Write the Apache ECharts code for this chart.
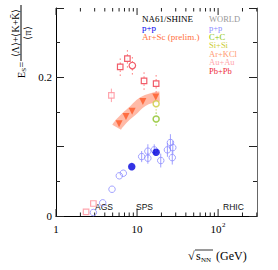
<!DOCTYPE html>
<html><head><meta charset="utf-8">
<script src="https://cdn.jsdelivr.net/npm/echarts@6/dist/echarts.min.js"></script>
<style>html,body{margin:0;padding:0;background:#fff}#c{width:278px;height:270px}</style>
</head><body><div id="c"></div>
<script>
// ---- data ----
const xMajorTicks = [1, 10, 100];
const xMajorLabels = ['1', '10', '10'];
const xMajorSup = ['', '', '2'];
const xMinorTicks = [2,3,4,5,6,7,8,9,20,30,40,50,60,70,80,90,200,300];

const ppWorldX   = [2.89, 3.77, 4.91, 6.04, 6.77, 11.4, 13.6, 13.6, 16.3, 19.6, 23.7, 25.8, 27.6, 27.2];
const ppWorldY   = [0.005, 0.019, 0.0386, 0.058, 0.0617, 0.0857, 0.0935, 0.0834, 0.0954, 0.080, 0.0954, 0.106, 0.0987, 0.0842];
const ppWorldErr = [0, 0, 0, 0, 0, 0.008, 0.010, 0.008, 0.008, 0.010, 0.010, 0.012, 0.010, 0.010];

const ppNA61X = [8.6, 17.2];
const ppNA61Y = [0.0712, 0.092];

const arScX = [6.0, 7.3, 8.7, 11.8, 17.0];
const arScY = [0.133, 0.1435, 0.151, 0.165, 0.1715];
const arScBandX = [5.6, 6.0, 7.3, 8.7, 11.8, 17.0, 19.0];
const arScBandY = [0.128, 0.133, 0.1435, 0.151, 0.165, 0.1715, 0.1725];

const pbPbSqX = [6.2, 7.6, 12.2, 17.2];
const pbPbSqY = [0.215, 0.227, 0.195, 0.191];
const pbPbCircX = [8.75];
const pbPbCircY = [0.217];
const pbPbErr = 0.013;

const auAuX = [2.35, 2.89, 4.82];
const auAuY = [0.006, 0.018, 0.174];
const auAuErr = [0, 0, 0.0097];

const ccX = [17.2];  const ccY = [0.140];
const siSiX = [17.2]; const siSiY = [0.162];
const heavyErr = 0.010;

const yLabels = {0: '0', 0.2: '0.2'};

// ---- helpers ----
const zip = (xs, ys) => xs.map((x, i) => [x, ys[i]]);
const errData = (xs, ys, e) => xs.map((x, i) => {
  const d = Array.isArray(e) ? e[i] : e;
  return [x, ys[i] - d, ys[i] + d];
}).filter(d => d[2] - d[1] > 0);
function errSeries(data, color, dash, z) {
  return {
    type: 'custom', data: data, z: z || 2, silent: true,
    renderItem: (p, api) => {
      const a = api.coord([api.value(0), api.value(1)]);
      const b = api.coord([api.value(0), api.value(2)]);
      return {type: 'line', shape: {x1: a[0], y1: a[1], x2: b[0], y2: b[1]},
        style: {stroke: color, lineWidth: 1, lineDash: dash || null}};
    }
  };
}
const serif = 'Liberation Serif';
const sans = 'Liberation Sans';

const chart = echarts.init(document.getElementById('c'), null, {renderer: 'svg'});

const commonX = {type: 'log', logBase: 10, min: 1, max: 302, splitLine: {show: false},
  axisTick: {show: false}, axisLabel: {show: false}};
const commonY = {type: 'value', min: 0, max: 0.3, interval: 0.1, splitLine: {show: false},
  minorTick: {show: true, splitNumber: 2, length: 4, lineStyle: {color: '#222'}}, minorSplitLine: {show: false}};

function tickSeries(values, len) {
  return {type: 'custom', data: values.map(v => [v, 0]), silent: true, z: 1, clip: false,
    renderItem: (p, api) => {
      const v = api.value(0);
      const b = api.coord([v, 0]), t = api.coord([v, 0.3]);
      return {type: 'group', children: [
        {type: 'line', shape: {x1: b[0], y1: b[1], x2: b[0], y2: b[1] - len}, style: {stroke: '#222', lineWidth: 1}},
        {type: 'line', shape: {x1: t[0], y1: t[1], x2: t[0], y2: t[1] + len}, style: {stroke: '#222', lineWidth: 1}}
      ]};
    }};
}

const option = {
  animation: false,
  backgroundColor: '#fff',
  grid: {left: 56, right: 21, top: 8, bottom: 54, containLabel: false},
  xAxis: [
    Object.assign({}, commonX, {position: 'bottom', axisLine: {lineStyle: {color: '#666', width: 1}}}),
    Object.assign({}, commonX, {position: 'top', axisLine: {lineStyle: {color: '#000', width: 1}}})
  ],
  yAxis: [
    Object.assign({}, commonY, {position: 'left',
      axisLine: {lineStyle: {color: '#000'}},
      axisTick: {inside: true, length: 8, lineStyle: {color: '#222'}},
      axisLabel: {margin: 4, fontFamily: serif, fontSize: 11, color: '#000',
        formatter: v => { for (const k in yLabels) if (Math.abs(v - k) < 1e-9) return yLabels[k]; return ''; }}}),
    Object.assign({}, commonY, {position: 'right',
      axisLine: {lineStyle: {color: '#666'}},
      axisTick: {inside: true, length: 8, lineStyle: {color: '#222'}},
      axisLabel: {show: false}})
  ],
  series: [
    tickSeries(xMinorTicks, 3.5),
    tickSeries(xMajorTicks, 7),
    // Ar+Sc band
    {type: 'line', data: zip(arScBandX, arScBandY), smooth: true, symbol: 'none', z: 1,
      lineStyle: {color: 'rgba(255,130,95,0.55)', width: 10, cap: 'butt'}},
    // error bars
    errSeries(errData(ppWorldX, ppWorldY, ppWorldErr), '#a0a0ff'),
    errSeries(errData(pbPbSqX.concat(pbPbCircX), pbPbSqY.concat(pbPbCircY), pbPbErr), '#ff7777', [1.5, 2.5]),
    errSeries(errData(auAuX, auAuY, auAuErr), '#ffa0a8'),
    errSeries(errData(ccX, ccY, heavyErr), '#99cc33', [1.5, 2.5]),
    errSeries(errData(siSiX, siSiY, heavyErr), '#d8d860', [1.5, 2.5]),
    // markers
    {type: 'scatter', data: zip(ppWorldX, ppWorldY), symbol: 'circle', symbolSize: 6.5, z: 3,
      itemStyle: {color: 'rgba(255,255,255,0)', borderColor: '#8c8cff', borderWidth: 1}},
    {type: 'scatter', data: zip(ppNA61X, ppNA61Y), symbol: 'circle', symbolSize: 7.5, z: 4,
      itemStyle: {color: '#0000dd'}},
    {type: 'scatter', data: zip(arScX, arScY), symbol: 'triangle', symbolRotate: 180, symbolSize: 7, z: 4,
      itemStyle: {color: '#ff5a28'}},
    {type: 'scatter', data: zip(pbPbSqX, pbPbSqY), symbol: 'rect', symbolSize: 5.5, z: 4,
      itemStyle: {color: '#fff', borderColor: '#ee3344', borderWidth: 1.2}},
    {type: 'scatter', data: zip(pbPbCircX, pbPbCircY), symbol: 'circle', symbolSize: 6.5, z: 4,
      itemStyle: {color: '#fff', borderColor: '#ee3344', borderWidth: 1.2}},
    {type: 'scatter', data: zip(auAuX, auAuY), symbol: 'rect', symbolSize: 5.5, z: 4,
      itemStyle: {color: '#fff', borderColor: '#ff8f9a', borderWidth: 1.2}},
    {type: 'scatter', data: zip(ccX, ccY), symbol: 'circle', symbolSize: 6, z: 4,
      itemStyle: {color: '#fff', borderColor: '#88c020', borderWidth: 1.5}},
    {type: 'scatter', data: zip(siSiX, siSiY), symbol: 'circle', symbolSize: 6, z: 4,
      itemStyle: {color: '#fff', borderColor: '#cccc40', borderWidth: 1.5}}
  ]
};
chart.setOption(option);

// x tick labels placed through the axis scale (put first)
const graphicEls = [];
xMajorTicks.forEach((v, i) => {
  const px = chart.convertToPixel({xAxisIndex: 0}, v);
  const py = chart.convertToPixel({yAxisIndex: 0}, 0);
  const dx = xMajorSup[i] ? -2 : 0;
  graphicEls.push({type: 'text', id: 'xl' + i, z: 100, x: px + dx, y: py + 7,
    style: {text: xMajorLabels[i], font: '11px ' + serif, fill: '#000', align: 'center', verticalAlign: 'top'}});
  if (xMajorSup[i]) graphicEls.push({type: 'text', id: 'xs' + i, z: 100, x: px + dx + 6, y: py + 5,
    style: {text: xMajorSup[i], font: '7px ' + serif, fill: '#000', align: 'left', verticalAlign: 'top'}});
});

graphicEls.push(
  // legend, left column
  {type: 'text', x: 142, y: 19, style: {text: 'NA61/SHINE', font: '9px ' + serif, fill: '#000', verticalAlign: 'middle'}},
  {type: 'text', x: 142, y: 28, style: {text: 'p+p', font: '9px ' + serif, fill: '#0000ee', verticalAlign: 'middle'}},
  {type: 'text', x: 142, y: 36.5, style: {text: 'Ar+Sc (prelim.)', font: '9px ' + serif, fill: '#ff7040', verticalAlign: 'middle'}},
  // legend, right column
  {type: 'text', x: 209, y: 19, style: {text: 'WORLD', font: '8.5px ' + serif, fill: '#999', verticalAlign: 'middle'}},
  {type: 'text', x: 209, y: 28, style: {text: 'p+p', font: '8.5px ' + serif, fill: '#8c8cff', verticalAlign: 'middle'}},
  {type: 'text', x: 209, y: 36.5, style: {text: 'C+C', font: '8.5px ' + serif, fill: '#88c400', verticalAlign: 'middle'}},
  {type: 'text', x: 209, y: 45, style: {text: 'Si+Si', font: '8.5px ' + serif, fill: '#cccc33', verticalAlign: 'middle'}},
  {type: 'text', x: 209, y: 53.5, style: {text: 'Ar+KCl', font: '8.5px ' + serif, fill: '#ff9a70', verticalAlign: 'middle'}},
  {type: 'text', x: 209, y: 62, style: {text: 'Au+Au', font: '8.5px ' + serif, fill: '#ffa5ac', verticalAlign: 'middle'}},
  {type: 'text', x: 209, y: 71, style: {text: 'Pb+Pb', font: '8.5px ' + serif, fill: '#ee2a3a', verticalAlign: 'middle'}},
  // accelerator labels
  {type: 'text', x: 95, y: 207, style: {text: 'AGS', font: '8.5px ' + sans, fill: '#111', verticalAlign: 'middle'}},
  {type: 'text', x: 136, y: 207, style: {text: 'SPS', font: '8.5px ' + sans, fill: '#111', verticalAlign: 'middle'}},
  {type: 'text', x: 223, y: 207, style: {text: 'RHIC', font: '8.5px ' + sans, fill: '#111', verticalAlign: 'middle'}},
  // x axis title
  {type: 'text', x: 188, y: 256, style: {text: '√', font: '12px ' + serif, fill: '#000', verticalAlign: 'middle'}},
  {type: 'line', shape: {x1: 195, y1: 250, x2: 213, y2: 250}, style: {stroke: '#000', lineWidth: 0.8}},
  {type: 'text', x: 196, y: 256, style: {text: 's', font: '12px ' + serif, fill: '#000', verticalAlign: 'middle'}},
  {type: 'text', x: 201, y: 259.5, style: {text: 'NN', font: '7px ' + serif, fill: '#000', verticalAlign: 'middle'}},
  {type: 'text', x: 213, y: 256, style: {text: ' (GeV)', font: '12px ' + serif, fill: '#000', verticalAlign: 'middle'}},
  // y axis title (rotated)
  {type: 'group', x: 21, y: 78, rotation: Math.PI / 2, children: [
    {type: 'text', x: 0, y: 0, style: {text: 'E', font: '10px ' + serif, fill: '#000', verticalAlign: 'middle'}},
    {type: 'text', x: 6.3, y: 3, style: {text: 'S', font: '7px ' + serif, fill: '#000', verticalAlign: 'middle'}},
    {type: 'text', x: 10.5, y: 0, style: {text: '=', font: '10px ' + serif, fill: '#000', verticalAlign: 'middle'}},
    {type: 'line', shape: {x1: 17, y1: 0, x2: 73, y2: 0}, style: {stroke: '#000', lineWidth: 1}},
    {type: 'text', x: 45, y: -1, style: {text: '⟨Λ⟩+⟨K+K\u0304⟩', font: '10px ' + serif, fill: '#000', align: 'center', verticalAlign: 'bottom'}},
    {type: 'text', x: 45, y: 1, style: {text: '⟨π⟩', font: '10px ' + serif, fill: '#000', align: 'center', verticalAlign: 'top'}}
  ]}
);
chart.setOption({graphic: graphicEls});
</script></body></html>
